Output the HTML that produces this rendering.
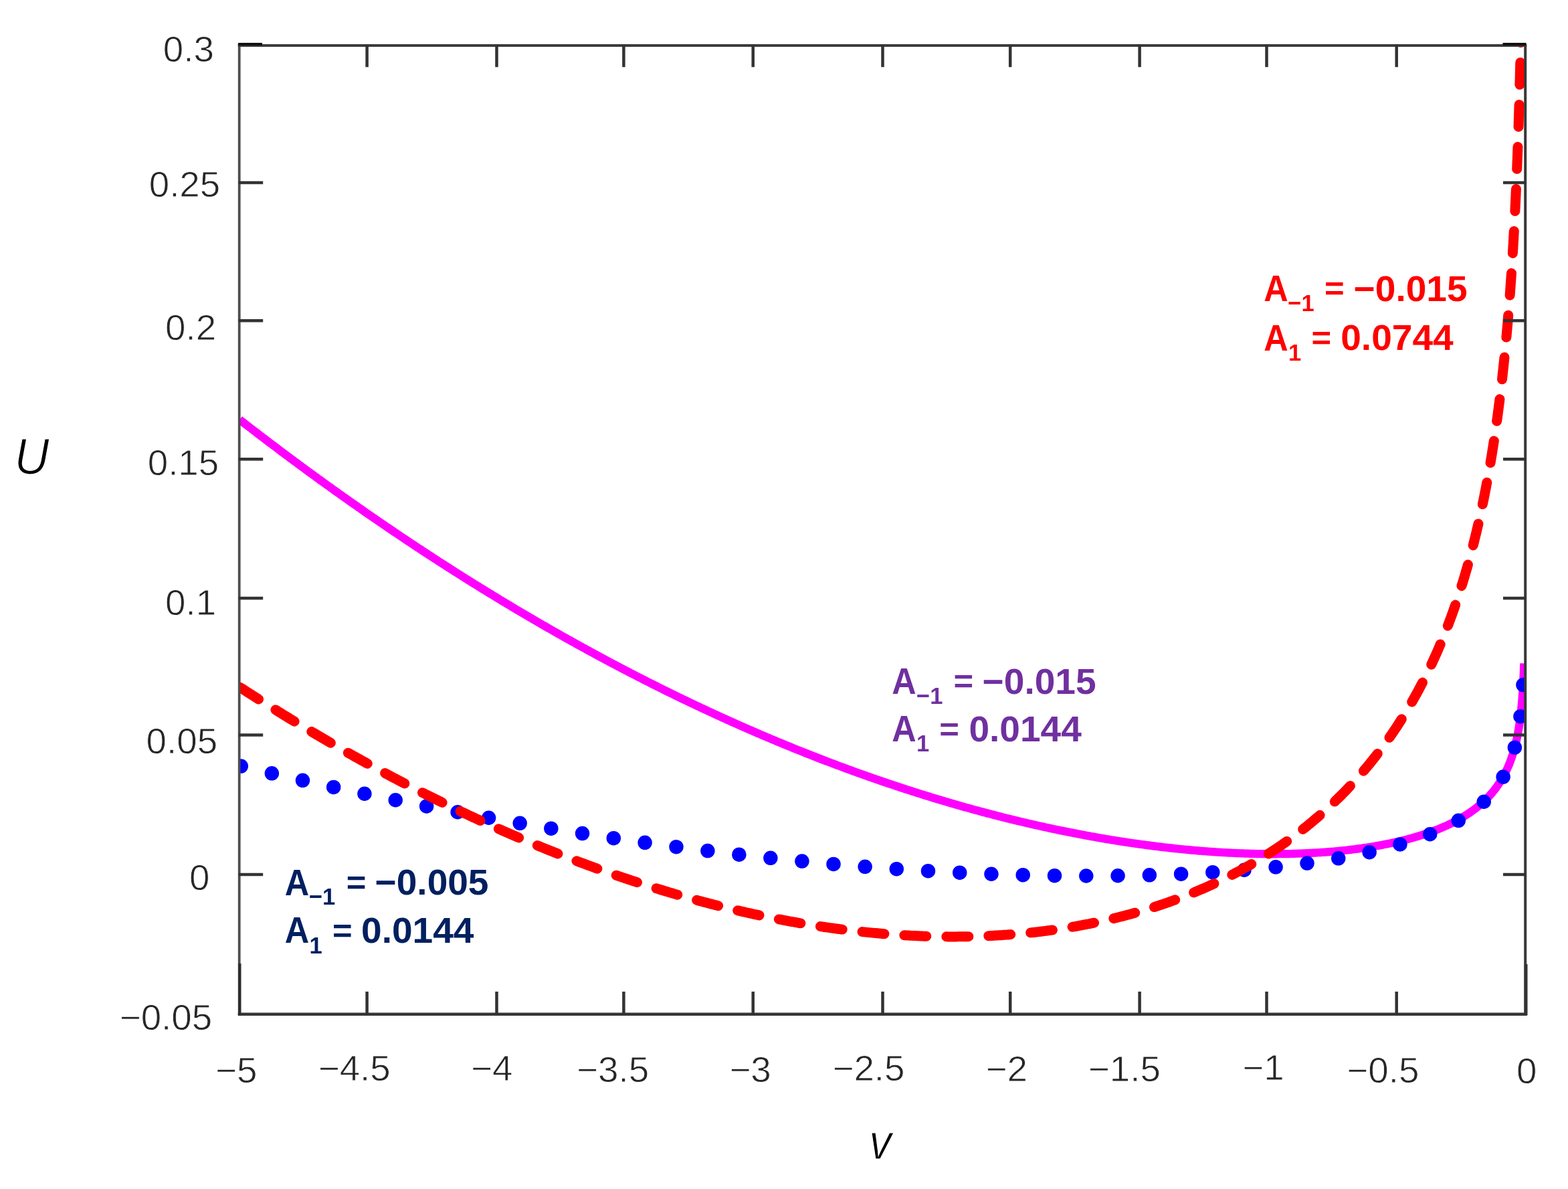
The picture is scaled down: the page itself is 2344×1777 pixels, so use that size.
<!DOCTYPE html><html><head><meta charset="utf-8"><title>U(v)</title><style>html,body{margin:0;padding:0;background:#fff;}body{width:2344px;height:1777px;overflow:hidden;}svg{display:block;}</style></head><body><svg width="2344" height="1777" viewBox="0 0 2344 1777" font-family="Liberation Sans, Arial, sans-serif"><defs><clipPath id="pc"><rect x="358.0" y="67.8" width="1922.20" height="1447.90"/></clipPath></defs><rect width="2344" height="1777" fill="#fff"/><g clip-path="url(#pc)"><path d="M358.20,627.16 L360.76,629.15 L363.32,631.13 L365.88,633.11 L368.44,635.09 L371.00,637.07 L373.56,639.04 L375.82,640.78 L378.68,642.98 L381.24,644.94 L383.80,646.90 L386.36,648.86 L388.92,650.81 L391.48,652.77 L393.28,654.14 L395.32,655.69 L397.88,657.63 L400.44,659.58 L403.00,661.52 L405.56,663.45 L408.12,665.39 L410.58,667.24 L413.24,669.24 L415.80,671.17 L418.36,673.09 L420.92,675.01 L423.48,676.93 L426.04,678.84 L427.72,680.09 L429.88,681.71 L432.44,683.61 L435.00,685.52 L437.56,687.42 L440.12,689.31 L442.68,691.21 L444.70,692.70 L446.52,694.05 L449.08,695.93 L451.64,697.82 L454.20,699.70 L456.76,701.58 L459.32,703.46 L461.53,705.07 L463.16,706.27 L465.72,708.13 L468.28,710.00 L470.84,711.86 L473.40,713.72 L475.96,715.58 L478.21,717.21 L481.08,719.29 L483.65,721.14 L486.21,722.98 L488.77,724.83 L491.33,726.67 L493.89,728.51 L496.45,730.34 L499.01,732.17 L501.57,734.00 L504.13,735.83 L506.69,737.65 L509.25,739.47 L511.10,740.78 L513.09,742.19 L515.65,744.01 L518.21,745.82 L520.77,747.63 L523.33,749.43 L525.89,751.23 L528.45,753.03 L531.01,754.83 L533.57,756.62 L535.37,757.88 L537.41,759.30 L539.97,761.09 L542.53,762.87 L545.09,764.65 L547.65,766.43 L550.21,768.20 L552.77,769.97 L555.33,771.74 L557.89,773.51 L560.45,775.27 L563.01,777.03 L565.57,778.79 L568.13,780.54 L570.69,782.29 L573.25,784.04 L575.09,785.29 L577.09,786.66 L579.65,788.40 L582.21,790.13 L584.77,791.87 L587.33,793.60 L589.89,795.33 L592.45,797.06 L595.01,798.78 L597.57,800.50 L600.13,802.22 L602.69,803.94 L605.25,805.65 L607.81,807.36 L610.37,809.06 L612.93,810.77 L615.49,812.47 L618.05,814.16 L620.61,815.86 L623.17,817.55 L625.73,819.24 L628.29,820.93 L630.85,822.61 L633.41,824.29 L635.97,825.97 L638.53,827.64 L641.09,829.31 L643.65,830.98 L646.21,832.65 L648.77,834.31 L651.33,835.97 L653.89,837.63 L656.45,839.28 L659.01,840.93 L661.57,842.58 L664.13,844.22 L666.69,845.87 L669.25,847.51 L671.81,849.14 L674.17,850.65 L676.93,852.41 L679.49,854.04 L681.55,855.34 L683.33,856.47 L685.89,858.09 L688.45,859.71 L691.01,861.33 L693.57,862.94 L696.13,864.55 L698.69,866.15 L701.25,867.76 L703.48,869.15 L706.37,870.95 L708.93,872.55 L710.73,873.66 L712.77,874.93 L715.33,876.52 L717.89,878.11 L720.45,879.69 L723.01,881.27 L725.12,882.56 L726.85,883.63 L729.42,885.20 L731.98,886.77 L734.54,888.33 L737.10,889.90 L739.37,891.28 L742.22,893.01 L744.78,894.57 L747.34,896.12 L749.90,897.66 L752.46,899.21 L755.02,900.75 L757.58,902.29 L760.14,903.83 L762.70,905.36 L765.26,906.89 L767.50,908.23 L770.38,909.94 L772.94,911.46 L775.50,912.98 L778.06,914.50 L780.62,916.01 L783.18,917.52 L785.74,919.03 L788.25,920.51 L790.86,922.03 L793.42,923.53 L795.98,925.03 L798.54,926.52 L801.10,928.01 L803.66,929.49 L806.22,930.98 L808.72,932.43 L811.34,933.94 L813.90,935.41 L816.46,936.88 L819.02,938.35 L821.58,939.82 L824.14,941.28 L826.70,942.74 L828.91,944.00 L831.82,945.65 L834.38,947.10 L836.94,948.55 L839.50,949.99 L842.06,951.44 L844.62,952.88 L847.18,954.31 L849.74,955.75 L852.30,957.18 L854.86,958.60 L857.42,960.03 L859.98,961.45 L861.95,962.54 L863.82,963.58 L866.38,964.99 L868.46,966.14 L870.22,967.11 L872.78,968.52 L874.95,969.71 L877.90,971.32 L880.46,972.72 L883.02,974.11 L885.58,975.51 L887.83,976.73 L890.70,978.28 L893.26,979.66 L895.82,981.05 L898.38,982.42 L900.60,983.61 L903.50,985.17 L906.06,986.54 L908.62,987.90 L911.18,989.27 L913.25,990.36 L915.02,991.30 L917.58,992.66 L919.53,993.69 L921.42,994.69 L923.98,996.03 L925.78,996.98 L927.82,998.05 L930.38,999.39 L932.94,1000.73 L935.50,1002.06 L938.06,1003.39 L940.62,1004.72 L943.18,1006.05 L945.74,1007.37 L948.30,1008.69 L950.50,1009.82 L953.42,1011.32 L955.98,1012.63 L958.54,1013.94 L961.10,1015.24 L963.66,1016.55 L966.22,1017.84 L968.75,1019.12 L971.34,1020.43 L973.91,1021.72 L976.47,1023.01 L979.03,1024.29 L981.59,1025.57 L984.15,1026.85 L986.71,1028.13 L989.27,1029.40 L991.83,1030.67 L994.39,1031.93 L996.95,1033.20 L999.51,1034.46 L1002.07,1035.71 L1004.49,1036.90 L1007.19,1038.22 L1009.75,1039.47 L1012.31,1040.71 L1014.87,1041.95 L1017.43,1043.19 L1019.99,1044.43 L1021.99,1045.39 L1023.83,1046.28 L1026.39,1047.51 L1028.95,1048.73 L1031.51,1049.95 L1033.52,1050.91 L1035.35,1051.78 L1037.91,1053.00 L1040.47,1054.21 L1043.03,1055.42 L1044.95,1056.32 L1046.87,1057.22 L1049.43,1058.43 L1051.99,1059.62 L1054.55,1060.82 L1057.11,1062.01 L1059.67,1063.20 L1061.90,1064.24 L1064.79,1065.57 L1067.35,1066.75 L1069.91,1067.93 L1072.47,1069.10 L1075.03,1070.27 L1077.59,1071.44 L1080.15,1072.61 L1082.71,1073.77 L1085.27,1074.93 L1087.83,1076.09 L1090.39,1077.24 L1092.95,1078.39 L1095.10,1079.35 L1098.07,1080.68 L1100.55,1081.78 L1103.19,1082.96 L1105.75,1084.09 L1108.31,1085.23 L1110.87,1086.35 L1113.43,1087.48 L1115.99,1088.60 L1118.55,1089.72 L1121.11,1090.84 L1123.67,1091.95 L1126.23,1093.06 L1128.79,1094.17 L1131.35,1095.28 L1133.91,1096.38 L1136.47,1097.48 L1139.03,1098.57 L1141.59,1099.66 L1144.15,1100.75 L1146.71,1101.84 L1149.27,1102.92 L1151.83,1104.00 L1154.39,1105.08 L1156.95,1106.15 L1158.82,1106.93 L1160.79,1107.76 L1163.35,1108.82 L1165.91,1109.89 L1168.47,1110.95 L1171.03,1112.00 L1173.59,1113.06 L1176.15,1114.11 L1178.71,1115.16 L1181.27,1116.20 L1183.83,1117.24 L1186.39,1118.28 L1188.95,1119.32 L1191.51,1120.35 L1194.07,1121.38 L1196.63,1122.41 L1199.19,1123.43 L1201.75,1124.45 L1204.31,1125.47 L1206.87,1126.48 L1209.29,1127.43 L1211.99,1128.50 L1214.21,1129.37 L1217.11,1130.50 L1219.11,1131.28 L1222.24,1132.50 L1224.80,1133.49 L1227.36,1134.48 L1229.92,1135.47 L1232.48,1136.45 L1235.04,1137.43 L1237.60,1138.41 L1240.16,1139.38 L1242.72,1140.35 L1245.28,1141.32 L1247.84,1142.28 L1250.40,1143.24 L1252.77,1144.13 L1255.52,1145.16 L1257.49,1145.89 L1260.64,1147.06 L1263.20,1148.00 L1265.76,1148.94 L1268.32,1149.88 L1270.88,1150.82 L1273.44,1151.75 L1276.00,1152.68 L1278.56,1153.61 L1280.77,1154.41 L1283.68,1155.45 L1286.24,1156.37 L1288.80,1157.28 L1291.36,1158.19 L1293.92,1159.10 L1296.48,1160.01 L1299.01,1160.90 L1301.60,1161.81 L1303.52,1162.48 L1305.44,1163.15 L1308.00,1164.04 L1310.56,1164.93 L1312.47,1165.59 L1314.40,1166.25 L1316.92,1167.12 L1319.52,1168.01 L1322.08,1168.88 L1324.64,1169.75 L1327.20,1170.62 L1329.76,1171.48 L1332.32,1172.34 L1334.50,1173.07 L1337.44,1174.05 L1340.00,1174.90 L1342.56,1175.75 L1345.12,1176.59 L1347.48,1177.37 L1350.24,1178.27 L1352.80,1179.11 L1355.36,1179.94 L1357.92,1180.77 L1360.27,1181.52 L1363.04,1182.41 L1365.60,1183.23 L1368.16,1184.05 L1370.72,1184.86 L1372.89,1185.55 L1375.84,1186.47 L1378.40,1187.28 L1380.96,1188.07 L1383.52,1188.87 L1386.08,1189.66 L1388.64,1190.45 L1391.20,1191.24 L1393.55,1191.96 L1396.32,1192.80 L1398.88,1193.58 L1401.44,1194.35 L1404.00,1195.12 L1406.56,1195.89 L1409.12,1196.65 L1411.68,1197.41 L1413.73,1198.02 L1416.80,1198.92 L1419.36,1199.67 L1421.67,1200.35 L1424.48,1201.16 L1427.04,1201.90 L1429.55,1202.62 L1432.16,1203.38 L1434.72,1204.11 L1437.28,1204.83 L1439.84,1205.56 L1442.40,1206.28 L1444.96,1207.00 L1447.52,1207.71 L1450.08,1208.42 L1452.64,1209.13 L1455.20,1209.83 L1457.76,1210.53 L1460.31,1211.23 L1462.88,1211.92 L1465.44,1212.61 L1467.83,1213.26 L1470.57,1213.99 L1473.13,1214.67 L1475.28,1215.24 L1478.25,1216.02 L1480.81,1216.69 L1483.37,1217.36 L1485.93,1218.02 L1488.49,1218.68 L1491.05,1219.34 L1493.60,1219.99 L1496.17,1220.64 L1498.73,1221.29 L1500.81,1221.81 L1503.85,1222.57 L1506.41,1223.21 L1508.97,1223.84 L1511.51,1224.47 L1514.09,1225.10 L1516.65,1225.72 L1519.21,1226.34 L1521.77,1226.96 L1524.33,1227.57 L1526.89,1228.18 L1529.00,1228.68 L1532.01,1229.39 L1534.57,1229.99 L1537.13,1230.59 L1539.31,1231.09 L1542.25,1231.77 L1544.81,1232.35 L1547.37,1232.93 L1549.48,1233.41 L1552.49,1234.09 L1555.05,1234.66 L1557.61,1235.23 L1560.17,1235.79 L1562.73,1236.35 L1565.29,1236.91 L1567.85,1237.46 L1570.41,1238.01 L1572.66,1238.49 L1575.53,1239.10 L1578.09,1239.64 L1580.65,1240.18 L1583.21,1240.71 L1585.57,1241.20 L1588.33,1241.77 L1590.89,1242.29 L1593.45,1242.81 L1596.01,1243.32 L1598.25,1243.77 L1601.13,1244.34 L1603.69,1244.84 L1606.25,1245.34 L1608.81,1245.84 L1611.37,1246.33 L1613.77,1246.79 L1616.49,1247.31 L1619.05,1247.79 L1621.61,1248.27 L1624.17,1248.74 L1626.73,1249.22 L1628.94,1249.62 L1631.85,1250.15 L1634.41,1250.61 L1636.97,1251.06 L1639.53,1251.52 L1642.09,1251.97 L1644.65,1252.41 L1646.69,1252.76 L1649.60,1253.26 L1652.33,1253.73 L1654.89,1254.16 L1657.45,1254.58 L1660.01,1255.01 L1662.57,1255.42 L1665.13,1255.84 L1667.69,1256.25 L1670.25,1256.66 L1672.41,1257.00 L1675.20,1257.44 L1677.93,1257.86 L1680.49,1258.25 L1683.05,1258.64 L1685.61,1259.03 L1688.17,1259.41 L1690.73,1259.78 L1693.29,1260.16 L1695.85,1260.53 L1698.41,1260.89 L1700.97,1261.25 L1703.53,1261.61 L1706.09,1261.97 L1708.65,1262.32 L1711.21,1262.66 L1713.78,1263.00 L1716.34,1263.34 L1718.90,1263.67 L1721.46,1264.00 L1724.02,1264.33 L1726.58,1264.65 L1729.14,1264.97 L1731.70,1265.28 L1734.26,1265.59 L1736.82,1265.90 L1739.38,1266.20 L1741.94,1266.50 L1744.50,1266.79 L1747.06,1267.08 L1749.62,1267.37 L1752.18,1267.65 L1754.74,1267.93 L1757.30,1268.20 L1759.86,1268.47 L1762.42,1268.73 L1764.98,1268.99 L1767.54,1269.25 L1769.98,1269.49 L1772.33,1269.71 L1774.66,1269.94 L1776.99,1270.15 L1779.06,1270.35 L1781.60,1270.58 L1783.89,1270.78 L1786.17,1270.98 L1788.44,1271.18 L1790.58,1271.36 L1792.95,1271.55 L1795.19,1271.74 L1797.42,1271.92 L1799.54,1272.08 L1801.84,1272.26 L1804.04,1272.43 L1806.23,1272.59 L1808.40,1272.75 L1810.57,1272.90 L1812.73,1273.05 L1814.88,1273.20 L1817.02,1273.34 L1819.14,1273.48 L1821.26,1273.61 L1823.37,1273.75 L1825.47,1273.87 L1827.56,1274.00 L1829.64,1274.12 L1831.71,1274.23 L1833.77,1274.35 L1835.82,1274.46 L1837.86,1274.56 L1839.90,1274.66 L1841.92,1274.76 L1843.93,1274.86 L1845.94,1274.95 L1848.18,1275.05 L1850.74,1275.16 L1853.30,1275.26 L1855.82,1275.36 L1858.42,1275.46 L1860.98,1275.55 L1863.54,1275.63 L1866.10,1275.71 L1868.66,1275.79 L1871.17,1275.85 L1873.78,1275.92 L1876.34,1275.98 L1878.64,1276.03 L1881.46,1276.08 L1884.02,1276.12 L1886.58,1276.16 L1889.14,1276.20 L1891.38,1276.22 L1894.26,1276.25 L1896.71,1276.26 L1899.38,1276.28 L1901.94,1276.28 L1904.50,1276.28 L1907.06,1276.28 L1909.62,1276.27 L1912.18,1276.25 L1914.74,1276.23 L1917.30,1276.20 L1919.86,1276.17 L1922.31,1276.13 L1924.98,1276.09 L1927.22,1276.04 L1930.10,1275.98 L1932.66,1275.92 L1935.22,1275.85 L1937.78,1275.77 L1939.99,1275.71 L1942.90,1275.61 L1945.46,1275.52 L1947.73,1275.43 L1950.58,1275.31 L1953.14,1275.20 L1955.30,1275.10 L1958.26,1274.96 L1960.83,1274.83 L1963.39,1274.69 L1965.60,1274.56 L1968.49,1274.39 L1971.07,1274.24 L1973.63,1274.07 L1976.19,1273.90 L1978.38,1273.75 L1981.14,1273.55 L1983.87,1273.34 L1986.43,1273.14 L1988.99,1272.94 L1991.55,1272.72 L1994.11,1272.50 L1996.67,1272.27 L1999.23,1272.03 L2001.79,1271.79 L2004.35,1271.54 L2006.91,1271.28 L2009.47,1271.01 L2012.03,1270.73 L2014.59,1270.45 L2017.15,1270.15 L2019.71,1269.85 L2022.12,1269.56 L2024.49,1269.27 L2026.83,1268.97 L2029.15,1268.67 L2031.23,1268.39 L2033.74,1268.05 L2036.00,1267.73 L2038.23,1267.41 L2040.45,1267.09 L2042.65,1266.76 L2044.83,1266.43 L2046.99,1266.09 L2049.12,1265.75 L2051.24,1265.40 L2053.34,1265.06 L2055.42,1264.71 L2057.48,1264.35 L2059.52,1263.99 L2061.55,1263.63 L2063.55,1263.26 L2065.54,1262.89 L2067.51,1262.52 L2069.63,1262.11 L2072.19,1261.61 L2074.25,1261.19 L2077.08,1260.61 L2079.87,1260.03 L2082.43,1259.47 L2084.43,1259.03 L2087.11,1258.43 L2089.76,1257.82 L2092.38,1257.20 L2094.95,1256.58 L2097.49,1255.96 L2100.00,1255.32 L2102.47,1254.69 L2104.91,1254.04 L2107.32,1253.40 L2109.31,1252.85 L2111.25,1252.31 L2113.57,1251.65 L2115.71,1251.02 L2118.11,1250.31 L2120.34,1249.64 L2122.53,1248.96 L2124.67,1248.29 L2126.83,1247.60 L2128.93,1246.91 L2131.01,1246.21 L2133.05,1245.52 L2135.07,1244.82 L2137.06,1244.12 L2139.03,1243.41 L2140.96,1242.70 L2142.87,1241.99 L2144.76,1241.27 L2147.23,1240.31 L2149.66,1239.35 L2151.55,1238.58 L2153.80,1237.65 L2156.11,1236.68 L2157.95,1235.88 L2160.04,1234.96 L2162.23,1233.97 L2164.35,1232.99 L2166.50,1231.98 L2168.58,1230.98 L2170.61,1229.98 L2172.61,1228.97 L2174.58,1227.96 L2176.51,1226.95 L2178.40,1225.93 L2180.26,1224.91 L2182.08,1223.89 L2183.87,1222.87 L2185.63,1221.84 L2187.36,1220.81 L2189.47,1219.52 L2191.23,1218.41 L2193.15,1217.19 L2195.07,1215.92 L2197.07,1214.58 L2198.91,1213.31 L2200.81,1211.96 L2202.62,1210.65 L2204.39,1209.34 L2206.11,1208.02 L2207.80,1206.70 L2209.45,1205.37 L2211.06,1204.05 L2212.63,1202.72 L2214.17,1201.39 L2215.67,1200.06 L2217.43,1198.46 L2219.14,1196.86 L2220.68,1195.38 L2222.16,1193.92 L2223.74,1192.31 L2225.28,1190.70 L2226.77,1189.08 L2228.23,1187.47 L2229.64,1185.86 L2231.02,1184.23 L2232.36,1182.61 L2233.67,1180.99 L2234.94,1179.37 L2236.17,1177.75 L2237.37,1176.12 L2238.54,1174.50 L2239.86,1172.60 L2241.14,1170.70 L2242.38,1168.80 L2243.58,1166.89 L2244.74,1164.99 L2245.86,1163.09 L2246.95,1161.18 L2248.01,1159.27 L2249.03,1157.37 L2250.02,1155.46 L2250.98,1153.55 L2251.90,1151.64 L2252.80,1149.73 L2253.67,1147.81 L2254.51,1145.90 L2255.33,1143.99 L2256.11,1142.08 L2256.88,1140.16 L2257.62,1138.25 L2258.33,1136.33 L2259.03,1134.42 L2259.70,1132.50 L2260.35,1130.59 L2260.98,1128.67 L2261.59,1126.76 L2262.18,1124.84 L2262.75,1122.92 L2263.38,1120.73 L2263.99,1118.54 L2264.58,1116.35 L2265.14,1114.15 L2265.69,1111.96 L2266.21,1109.77 L2266.72,1107.58 L2267.21,1105.38 L2267.68,1103.19 L2268.13,1101.00 L2268.57,1098.80 L2268.99,1096.61 L2269.39,1094.42 L2269.78,1092.22 L2270.16,1090.03 L2270.52,1087.83 L2270.87,1085.64 L2271.21,1083.44 L2271.54,1081.25 L2271.85,1079.05 L2272.15,1076.86 L2272.44,1074.67 L2272.72,1072.47 L2272.99,1070.28 L2273.25,1068.08 L2273.50,1065.89 L2273.75,1063.69 L2273.98,1061.49 L2274.21,1059.30 L2274.42,1057.10 L2274.63,1054.91 L2274.83,1052.71 L2275.03,1050.52 L2275.21,1048.32 L2275.39,1046.13 L2275.57,1043.93 L2275.74,1041.74 L2275.90,1039.54 L2276.05,1037.35 L2276.20,1035.15 L2276.35,1032.95 L2276.49,1030.76 L2276.62,1028.56 L2276.75,1026.37 L2276.88,1024.17 L2277.00,1021.98 L2277.11,1019.78 L2277.22,1017.59 L2277.33,1015.39 L2277.43,1013.19 L2277.53,1011.00 L2277.63,1008.80 L2277.72,1006.61 L2277.81,1004.41 L2277.90,1002.22 L2277.98,1000.02 L2278.06,997.82 L2278.14,995.63 L2278.22,993.43 L2278.28,991.51" fill="none" stroke="#ff00ff" stroke-width="12.2" stroke-linejoin="round"/><path d="M358.20,1144.54 L360.76,1145.15 L363.32,1145.76 L365.88,1146.36 L368.44,1146.97 L371.00,1147.57 L373.56,1148.18 L375.82,1148.71 L378.68,1149.38 L381.24,1149.98 L383.80,1150.58 L386.36,1151.18 L388.92,1151.78 L391.48,1152.38 L394.04,1152.97 L396.60,1153.57 L399.16,1154.16 L401.72,1154.76 L404.28,1155.35 L406.84,1155.94 L409.40,1156.53 L411.96,1157.12 L414.52,1157.70 L417.08,1158.29 L419.17,1158.77 L422.20,1159.46 L424.76,1160.04 L427.32,1160.63 L429.88,1161.21 L432.44,1161.79 L435.00,1162.37 L437.56,1162.95 L440.12,1163.52 L442.68,1164.10 L444.70,1164.55 L447.80,1165.25 L450.36,1165.82 L452.92,1166.40 L455.48,1166.97 L458.04,1167.54 L460.60,1168.11 L463.16,1168.67 L465.72,1169.24 L468.28,1169.81 L470.84,1170.37 L473.40,1170.94 L475.96,1171.50 L478.21,1171.99 L481.08,1172.62 L483.65,1173.18 L486.21,1173.74 L488.77,1174.30 L491.33,1174.85 L493.89,1175.41 L496.45,1175.96 L499.01,1176.52 L501.57,1177.07 L504.13,1177.62 L506.69,1178.17 L509.25,1178.72 L511.81,1179.27 L514.37,1179.82 L516.93,1180.36 L519.22,1180.85 L522.05,1181.45 L524.61,1182.00 L527.17,1182.54 L529.73,1183.08 L532.29,1183.62 L534.85,1184.16 L537.41,1184.70 L539.97,1185.23 L542.53,1185.77 L545.09,1186.30 L547.65,1186.84 L550.21,1187.37 L552.77,1187.90 L555.33,1188.43 L557.89,1188.96 L560.45,1189.49 L563.01,1190.02 L565.57,1190.54 L568.13,1191.07 L570.69,1191.59 L573.25,1192.11 L575.81,1192.64 L578.37,1193.16 L580.93,1193.68 L582.92,1194.08 L586.05,1194.72 L588.61,1195.23 L590.72,1195.66 L593.73,1196.26 L596.29,1196.78 L598.48,1197.22 L601.41,1197.80 L603.97,1198.31 L606.21,1198.76 L609.09,1199.33 L611.65,1199.84 L613.90,1200.28 L616.77,1200.85 L619.33,1201.35 L621.56,1201.79 L624.45,1202.36 L627.01,1202.86 L629.18,1203.28 L632.13,1203.86 L634.69,1204.35 L636.76,1204.76 L639.81,1205.35 L642.37,1205.84 L644.93,1206.34 L647.49,1206.83 L650.05,1207.32 L652.61,1207.81 L655.17,1208.30 L657.73,1208.79 L660.29,1209.27 L662.85,1209.76 L665.41,1210.25 L667.97,1210.73 L670.53,1211.21 L673.09,1211.69 L675.65,1212.17 L678.21,1212.65 L680.77,1213.13 L683.33,1213.61 L685.89,1214.09 L688.45,1214.56 L691.01,1215.04 L693.57,1215.51 L696.13,1215.98 L698.69,1216.45 L701.25,1216.92 L703.48,1217.33 L706.37,1217.86 L708.93,1218.33 L711.49,1218.79 L714.05,1219.26 L716.61,1219.72 L719.17,1220.18 L721.73,1220.64 L724.29,1221.11 L726.85,1221.56 L729.42,1222.02 L731.98,1222.48 L734.54,1222.94 L737.10,1223.39 L739.37,1223.79 L742.22,1224.30 L744.78,1224.75 L747.34,1225.20 L749.90,1225.65 L752.46,1226.10 L755.02,1226.55 L757.58,1226.99 L760.14,1227.44 L762.70,1227.88 L765.26,1228.32 L767.50,1228.71 L770.38,1229.21 L772.94,1229.65 L775.50,1230.08 L778.06,1230.52 L780.62,1230.96 L783.18,1231.39 L785.74,1231.83 L788.25,1232.25 L790.86,1232.69 L793.42,1233.12 L795.98,1233.55 L798.54,1233.98 L801.10,1234.41 L803.66,1234.84 L806.22,1235.26 L808.72,1235.68 L811.34,1236.11 L813.90,1236.53 L816.46,1236.95 L819.02,1237.37 L821.58,1237.79 L824.14,1238.21 L826.70,1238.63 L828.91,1238.99 L831.82,1239.46 L834.38,1239.87 L836.94,1240.28 L839.50,1240.70 L842.06,1241.11 L844.62,1241.51 L847.18,1241.92 L849.74,1242.33 L852.30,1242.73 L854.86,1243.14 L857.42,1243.54 L859.98,1243.95 L862.54,1244.35 L865.10,1244.75 L867.66,1245.15 L870.22,1245.54 L872.78,1245.94 L874.95,1246.28 L877.90,1246.73 L880.46,1247.12 L883.02,1247.52 L885.58,1247.91 L887.83,1248.25 L890.70,1248.69 L893.26,1249.07 L895.82,1249.46 L898.38,1249.85 L900.60,1250.18 L903.50,1250.61 L906.06,1251.00 L908.62,1251.38 L911.18,1251.76 L913.25,1252.06 L916.30,1252.51 L918.86,1252.89 L921.42,1253.27 L923.98,1253.64 L926.54,1254.01 L929.10,1254.39 L931.66,1254.76 L934.22,1255.13 L936.78,1255.50 L939.34,1255.86 L941.90,1256.23 L944.36,1256.58 L947.02,1256.96 L949.58,1257.32 L952.14,1257.68 L954.70,1258.04 L957.26,1258.40 L959.82,1258.76 L962.38,1259.12 L964.94,1259.48 L967.50,1259.83 L970.06,1260.18 L972.62,1260.54 L974.77,1260.83 L977.75,1261.24 L980.31,1261.59 L982.87,1261.94 L985.43,1262.28 L987.99,1262.63 L990.55,1262.97 L992.68,1263.26 L995.67,1263.66 L998.23,1264.00 L1000.79,1264.34 L1003.35,1264.68 L1005.91,1265.02 L1008.47,1265.35 L1011.03,1265.69 L1013.59,1266.02 L1016.15,1266.36 L1018.71,1266.69 L1021.27,1267.02 L1023.83,1267.35 L1026.39,1267.68 L1028.95,1268.01 L1031.51,1268.33 L1033.52,1268.59 L1036.63,1268.98 L1039.19,1269.30 L1041.75,1269.62 L1044.31,1269.94 L1046.87,1270.26 L1049.43,1270.58 L1051.99,1270.90 L1054.55,1271.21 L1057.11,1271.53 L1059.67,1271.84 L1061.90,1272.11 L1064.79,1272.46 L1067.35,1272.77 L1069.91,1273.08 L1072.47,1273.39 L1075.03,1273.70 L1077.59,1274.00 L1080.15,1274.30 L1082.71,1274.61 L1085.27,1274.91 L1087.83,1275.21 L1090.39,1275.51 L1092.95,1275.81 L1095.10,1276.05 L1098.07,1276.40 L1100.55,1276.68 L1103.19,1276.98 L1105.75,1277.28 L1108.31,1277.57 L1110.87,1277.86 L1113.43,1278.14 L1115.99,1278.43 L1118.55,1278.72 L1121.11,1279.00 L1123.67,1279.28 L1126.23,1279.57 L1128.79,1279.85 L1131.35,1280.13 L1133.91,1280.41 L1136.47,1280.68 L1139.03,1280.96 L1141.59,1281.23 L1144.15,1281.51 L1146.71,1281.78 L1149.27,1282.05 L1151.83,1282.32 L1154.39,1282.59 L1156.95,1282.86 L1159.51,1283.12 L1162.07,1283.39 L1164.63,1283.65 L1167.19,1283.92 L1169.75,1284.18 L1172.31,1284.44 L1174.87,1284.70 L1177.43,1284.95 L1179.99,1285.21 L1182.55,1285.47 L1185.11,1285.72 L1187.67,1285.97 L1190.23,1286.22 L1192.79,1286.47 L1195.35,1286.72 L1197.91,1286.97 L1200.47,1287.22 L1203.03,1287.46 L1205.59,1287.71 L1208.15,1287.95 L1210.71,1288.19 L1213.27,1288.43 L1215.83,1288.67 L1218.39,1288.91 L1220.96,1289.14 L1223.52,1289.38 L1226.08,1289.61 L1228.64,1289.84 L1231.20,1290.08 L1233.67,1290.30 L1236.32,1290.53 L1238.47,1290.73 L1241.44,1290.99 L1244.00,1291.21 L1246.56,1291.44 L1249.12,1291.66 L1251.68,1291.88 L1254.24,1292.10 L1256.80,1292.32 L1259.36,1292.54 L1261.92,1292.75 L1264.48,1292.97 L1266.86,1293.17 L1269.60,1293.39 L1272.16,1293.60 L1274.72,1293.81 L1277.28,1294.02 L1279.84,1294.23 L1282.40,1294.43 L1284.96,1294.64 L1287.52,1294.84 L1289.93,1295.03 L1292.64,1295.24 L1295.20,1295.44 L1297.76,1295.64 L1300.32,1295.83 L1302.88,1296.03 L1305.44,1296.22 L1308.00,1296.41 L1310.56,1296.61 L1313.12,1296.80 L1315.68,1296.98 L1318.24,1297.17 L1320.80,1297.36 L1323.36,1297.54 L1325.75,1297.71 L1328.48,1297.91 L1331.04,1298.09 L1333.60,1298.26 L1336.16,1298.44 L1338.72,1298.62 L1341.28,1298.79 L1343.84,1298.97 L1346.40,1299.14 L1348.96,1299.31 L1351.52,1299.48 L1354.08,1299.65 L1356.64,1299.81 L1359.20,1299.98 L1361.76,1300.14 L1364.32,1300.30 L1366.88,1300.47 L1369.44,1300.63 L1372.00,1300.78 L1374.56,1300.94 L1377.06,1301.09 L1379.68,1301.25 L1382.24,1301.40 L1384.80,1301.55 L1387.36,1301.70 L1389.46,1301.83 L1392.48,1302.00 L1395.04,1302.15 L1397.60,1302.29 L1400.16,1302.43 L1402.72,1302.57 L1405.28,1302.71 L1407.84,1302.85 L1410.40,1302.99 L1412.96,1303.13 L1415.52,1303.26 L1417.71,1303.37 L1420.64,1303.52 L1423.20,1303.65 L1425.62,1303.78 L1428.32,1303.91 L1430.88,1304.04 L1433.44,1304.16 L1436.00,1304.28 L1438.56,1304.40 L1441.12,1304.52 L1443.68,1304.64 L1446.24,1304.76 L1448.80,1304.87 L1451.36,1304.99 L1453.92,1305.10 L1456.48,1305.21 L1459.04,1305.32 L1461.60,1305.43 L1464.08,1305.53 L1466.73,1305.64 L1469.29,1305.74 L1471.56,1305.83 L1474.41,1305.94 L1476.97,1306.04 L1478.98,1306.12 L1482.09,1306.24 L1484.65,1306.33 L1487.21,1306.42 L1489.77,1306.51 L1492.33,1306.60 L1494.89,1306.69 L1497.22,1306.77 L1500.01,1306.86 L1502.57,1306.95 L1505.13,1307.03 L1507.69,1307.11 L1510.25,1307.19 L1512.81,1307.26 L1515.04,1307.33 L1517.93,1307.41 L1520.49,1307.49 L1523.05,1307.56 L1525.54,1307.62 L1528.17,1307.69 L1530.73,1307.76 L1533.29,1307.82 L1535.85,1307.89 L1538.41,1307.95 L1540.97,1308.01 L1543.53,1308.07 L1546.09,1308.12 L1548.65,1308.18 L1551.21,1308.23 L1553.77,1308.28 L1556.18,1308.33 L1558.89,1308.38 L1561.45,1308.42 L1564.01,1308.47 L1566.11,1308.50 L1569.13,1308.55 L1571.69,1308.59 L1574.25,1308.63 L1576.81,1308.67 L1579.14,1308.70 L1581.93,1308.73 L1584.49,1308.76 L1587.05,1308.79 L1589.61,1308.82 L1591.94,1308.84 L1594.73,1308.87 L1597.29,1308.89 L1599.85,1308.91 L1602.41,1308.93 L1604.50,1308.95 L1607.53,1308.96 L1610.09,1308.98 L1612.65,1308.99 L1615.21,1309.00 L1617.77,1309.01 L1619.88,1309.01 L1622.89,1309.02 L1625.45,1309.02 L1628.01,1309.02 L1630.57,1309.02 L1633.13,1309.02 L1635.69,1309.01 L1637.88,1309.01 L1640.81,1309.00 L1643.37,1308.99 L1645.93,1308.98 L1648.49,1308.96 L1651.05,1308.95 L1653.61,1308.93 L1656.17,1308.91 L1658.25,1308.89 L1661.11,1308.86 L1663.85,1308.84 L1666.41,1308.81 L1668.97,1308.78 L1671.53,1308.75 L1674.09,1308.72 L1676.65,1308.68 L1679.21,1308.64 L1681.77,1308.60 L1684.33,1308.56 L1686.89,1308.52 L1688.97,1308.48 L1691.69,1308.43 L1694.39,1308.38 L1697.09,1308.33 L1699.69,1308.27 L1702.25,1308.21 L1704.81,1308.16 L1707.37,1308.10 L1709.93,1308.03 L1712.50,1307.97 L1715.06,1307.90 L1717.62,1307.84 L1720.18,1307.77 L1722.74,1307.69 L1725.30,1307.62 L1727.86,1307.54 L1730.42,1307.46 L1732.98,1307.38 L1735.54,1307.30 L1738.10,1307.21 L1740.66,1307.12 L1743.22,1307.03 L1745.78,1306.94 L1748.34,1306.84 L1750.84,1306.75 L1753.27,1306.65 L1755.69,1306.56 L1758.10,1306.46 L1760.50,1306.36 L1762.89,1306.26 L1764.98,1306.17 L1767.54,1306.06 L1769.98,1305.95 L1772.33,1305.84 L1774.66,1305.73 L1776.99,1305.62 L1779.06,1305.52 L1781.60,1305.39 L1783.89,1305.28 L1786.17,1305.16 L1788.44,1305.05 L1790.58,1304.93 L1792.95,1304.81 L1795.19,1304.68 L1797.42,1304.56 L1799.54,1304.44 L1801.84,1304.31 L1804.04,1304.18 L1806.23,1304.05 L1808.40,1303.92 L1810.57,1303.79 L1812.73,1303.66 L1814.88,1303.52 L1817.02,1303.39 L1819.14,1303.25 L1821.26,1303.11 L1823.37,1302.97 L1825.47,1302.83 L1827.56,1302.69 L1829.64,1302.55 L1831.71,1302.41 L1833.77,1302.26 L1835.82,1302.11 L1837.86,1301.97 L1839.90,1301.82 L1841.92,1301.67 L1843.93,1301.52 L1845.94,1301.36 L1847.93,1301.21 L1850.74,1300.99 L1853.30,1300.79 L1855.82,1300.59 L1858.42,1300.37 L1860.98,1300.16 L1863.54,1299.95 L1866.10,1299.73 L1868.66,1299.51 L1871.17,1299.29 L1873.78,1299.05 L1876.34,1298.82 L1878.64,1298.61 L1881.46,1298.35 L1884.02,1298.11 L1886.58,1297.86 L1889.14,1297.61 L1891.38,1297.40 L1894.26,1297.11 L1896.71,1296.86 L1899.38,1296.59 L1901.94,1296.32 L1904.50,1296.05 L1907.06,1295.78 L1909.62,1295.50 L1912.18,1295.22 L1914.74,1294.94 L1917.30,1294.65 L1919.86,1294.35 L1922.31,1294.07 L1924.98,1293.76 L1927.22,1293.49 L1930.10,1293.15 L1932.66,1292.83 L1935.22,1292.52 L1937.78,1292.20 L1939.99,1291.92 L1942.90,1291.54 L1945.46,1291.21 L1947.73,1290.91 L1950.58,1290.53 L1953.14,1290.18 L1955.30,1289.89 L1958.26,1289.47 L1960.83,1289.11 L1963.39,1288.75 L1965.60,1288.43 L1968.49,1288.00 L1971.07,1287.62 L1973.63,1287.23 L1976.19,1286.84 L1978.38,1286.51 L1981.14,1286.07 L1983.87,1285.64 L1986.43,1285.23 L1988.99,1284.81 L1991.55,1284.39 L1994.11,1283.96 L1996.67,1283.53 L1999.23,1283.09 L2001.79,1282.65 L2004.35,1282.19 L2006.91,1281.74 L2009.47,1281.27 L2012.03,1280.80 L2014.59,1280.33 L2017.15,1279.85 L2019.71,1279.36 L2022.12,1278.89 L2024.49,1278.43 L2026.83,1277.96 L2029.15,1277.49 L2031.23,1277.07 L2033.74,1276.56 L2036.00,1276.08 L2038.23,1275.61 L2040.45,1275.14 L2042.65,1274.66 L2044.83,1274.18 L2046.99,1273.71 L2049.12,1273.23 L2051.24,1272.75 L2053.34,1272.26 L2055.42,1271.78 L2057.48,1271.30 L2059.52,1270.81 L2061.55,1270.32 L2063.55,1269.84 L2065.54,1269.35 L2067.51,1268.86 L2069.46,1268.37 L2072.19,1267.67 L2074.25,1267.13 L2077.08,1266.39 L2079.87,1265.65 L2082.43,1264.95 L2084.43,1264.40 L2087.11,1263.65 L2089.76,1262.90 L2092.38,1262.14 L2094.95,1261.39 L2097.49,1260.63 L2100.00,1259.87 L2102.47,1259.11 L2104.91,1258.35 L2107.32,1257.58 L2109.31,1256.94 L2111.25,1256.30 L2113.15,1255.67 L2115.10,1255.02 L2116.99,1254.38 L2119.55,1253.49 L2121.80,1252.70 L2123.97,1251.93 L2125.95,1251.21 L2128.23,1250.37 L2130.32,1249.59 L2132.35,1248.82 L2134.40,1248.03 L2136.40,1247.25 L2138.37,1246.46 L2140.32,1245.68 L2142.24,1244.89 L2144.13,1244.11 L2146.00,1243.32 L2147.84,1242.53 L2150.26,1241.47 L2152.63,1240.42 L2154.96,1239.36 L2157.24,1238.30 L2159.23,1237.37 L2161.14,1236.45 L2163.07,1235.51 L2164.92,1234.59 L2166.91,1233.58 L2169.09,1232.46 L2171.12,1231.39 L2173.11,1230.33 L2175.06,1229.26 L2176.98,1228.19 L2178.87,1227.12 L2180.72,1226.04 L2182.53,1224.97 L2184.31,1223.90 L2186.06,1222.82 L2187.78,1221.75 L2189.47,1220.67 L2191.23,1219.52 L2193.15,1218.25 L2195.07,1216.94 L2197.07,1215.55 L2198.91,1214.23 L2200.81,1212.85 L2202.62,1211.49 L2204.39,1210.14 L2206.11,1208.79 L2207.80,1207.43 L2209.45,1206.08 L2211.06,1204.72 L2212.63,1203.36 L2214.17,1202.00 L2215.67,1200.65 L2217.14,1199.29 L2218.86,1197.65 L2220.53,1196.02 L2221.96,1194.59 L2223.48,1193.03 L2225.02,1191.39 L2226.53,1189.76 L2227.99,1188.12 L2229.41,1186.48 L2230.80,1184.85 L2232.14,1183.21 L2233.45,1181.57 L2234.73,1179.93 L2235.97,1178.29 L2237.17,1176.65 L2238.34,1175.01 L2239.67,1173.10 L2240.96,1171.19 L2242.20,1169.27 L2243.41,1167.36 L2244.58,1165.44 L2245.71,1163.52 L2246.80,1161.61 L2247.86,1159.69 L2248.84,1157.87 L2249.88,1155.86 L2250.84,1153.94 L2251.77,1152.02 L2252.67,1150.11 L2253.55,1148.19 L2254.39,1146.27 L2255.21,1144.35 L2256.00,1142.43 L2256.77,1140.51 L2257.51,1138.59 L2258.23,1136.68 L2258.93,1134.76 L2259.61,1132.84 L2260.26,1130.92 L2260.89,1129.00 L2261.50,1127.08 L2262.10,1125.16 L2262.67,1123.24 L2263.31,1121.04 L2263.92,1118.85 L2264.51,1116.66 L2265.07,1114.46 L2265.62,1112.27 L2266.15,1110.07 L2266.66,1107.88 L2267.15,1105.68 L2267.62,1103.49 L2268.04,1101.47 L2268.46,1099.37 L2268.88,1097.18 L2269.29,1094.98 L2269.69,1092.79 L2270.07,1090.59 L2270.43,1088.39 L2270.79,1086.20 L2271.13,1084.00 L2271.46,1081.81 L2271.77,1079.61 L2272.08,1077.42 L2272.37,1075.22 L2272.65,1073.03 L2272.93,1070.83 L2273.19,1068.64 L2273.44,1066.44 L2273.69,1064.24 L2273.92,1062.05 L2274.15,1059.85 L2274.37,1057.66 L2274.58,1055.46 L2274.78,1053.27 L2274.98,1051.07 L2275.17,1048.88 L2275.35,1046.68 L2275.53,1044.48 L2275.69,1042.29 L2275.86,1040.09 L2276.01,1037.90 L2276.17,1035.70 L2276.31,1033.51 L2276.45,1031.31 L2276.59,1029.11 L2276.72,1026.92 L2276.84,1024.72 L2276.97,1022.53 L2277.08,1020.33 L2277.20,1018.14 L2277.30,1015.94 L2277.41,1013.74 L2277.51,1011.55 L2277.61,1009.35 L2277.70,1007.16 L2277.79,1004.96 L2277.88,1002.76 L2277.96,1000.57 L2278.04,998.37 L2278.12,996.18 L2278.20,993.98 L2278.27,991.79 L2278.28,991.51" fill="none" stroke="#0000ff" stroke-width="21.5" stroke-linecap="round" stroke-dasharray="0 47.289" stroke-dashoffset="-2.17"/><path d="M358.20,1026.85 L360.76,1028.51 L363.32,1030.16 L365.88,1031.81 L368.44,1033.45 L371.00,1035.10 L373.56,1036.73 L375.82,1038.18 L378.68,1040.00 L381.24,1041.63 L383.80,1043.26 L386.36,1044.88 L388.92,1046.50 L391.48,1048.12 L393.28,1049.25 L395.32,1050.53 L397.88,1052.14 L400.44,1053.74 L403.00,1055.35 L405.56,1056.94 L408.12,1058.54 L410.58,1060.06 L413.24,1061.72 L415.80,1063.30 L418.36,1064.88 L420.92,1066.46 L423.48,1068.03 L426.04,1069.60 L428.60,1071.17 L431.16,1072.74 L433.72,1074.30 L436.23,1075.82 L438.84,1077.41 L441.40,1078.96 L443.96,1080.51 L446.52,1082.05 L449.08,1083.59 L451.64,1085.13 L454.20,1086.66 L456.76,1088.19 L459.32,1089.72 L461.53,1091.04 L464.44,1092.77 L467.00,1094.28 L469.56,1095.80 L472.12,1097.31 L474.68,1098.82 L477.24,1100.32 L479.80,1101.82 L482.37,1103.32 L484.93,1104.81 L487.49,1106.30 L490.05,1107.79 L492.61,1109.27 L494.73,1110.50 L497.73,1112.23 L500.29,1113.70 L502.85,1115.17 L505.41,1116.64 L507.97,1118.10 L510.53,1119.56 L513.09,1121.02 L515.65,1122.47 L518.21,1123.92 L520.77,1125.37 L523.33,1126.81 L525.89,1128.25 L528.45,1129.68 L531.01,1131.12 L533.57,1132.55 L535.37,1133.55 L537.41,1134.68 L539.97,1136.10 L542.53,1137.52 L545.09,1138.93 L547.65,1140.34 L550.21,1141.75 L552.77,1143.16 L555.33,1144.56 L557.89,1145.95 L560.45,1147.35 L563.01,1148.73 L565.57,1150.12 L568.13,1151.50 L570.69,1152.88 L573.25,1154.26 L575.09,1155.24 L577.09,1156.32 L579.65,1157.68 L582.21,1159.05 L584.77,1160.41 L587.33,1161.77 L589.89,1163.12 L592.45,1164.47 L595.01,1165.82 L597.57,1167.16 L600.13,1168.50 L602.69,1169.84 L605.25,1171.17 L607.81,1172.50 L610.37,1173.82 L612.93,1175.15 L615.49,1176.46 L618.05,1177.78 L620.61,1179.09 L623.17,1180.40 L625.73,1181.70 L628.29,1183.01 L630.85,1184.30 L633.41,1185.60 L635.97,1186.89 L638.53,1188.18 L641.09,1189.46 L643.65,1190.74 L646.21,1192.02 L648.77,1193.29 L651.33,1194.56 L653.89,1195.83 L656.45,1197.09 L659.01,1198.35 L661.57,1199.61 L664.13,1200.86 L666.69,1202.11 L669.25,1203.35 L671.81,1204.59 L674.17,1205.73 L676.93,1207.07 L679.49,1208.30 L681.55,1209.28 L684.61,1210.75 L687.17,1211.97 L689.73,1213.19 L692.29,1214.40 L694.85,1215.61 L697.41,1216.82 L699.97,1218.02 L702.53,1219.22 L705.09,1220.41 L707.65,1221.60 L710.21,1222.79 L712.77,1223.98 L715.33,1225.16 L717.89,1226.34 L720.45,1227.51 L723.01,1228.68 L725.12,1229.64 L728.14,1231.01 L730.70,1232.17 L733.26,1233.33 L735.82,1234.48 L738.38,1235.63 L740.94,1236.77 L743.50,1237.92 L746.06,1239.05 L748.62,1240.19 L751.18,1241.32 L753.50,1242.34 L756.30,1243.57 L758.86,1244.69 L761.42,1245.81 L763.98,1246.92 L766.54,1248.03 L769.10,1249.14 L771.66,1250.24 L774.22,1251.34 L776.78,1252.43 L779.34,1253.52 L781.37,1254.38 L784.46,1255.69 L787.02,1256.77 L789.58,1257.85 L792.14,1258.92 L794.70,1259.99 L797.26,1261.06 L799.82,1262.12 L801.93,1262.99 L804.94,1264.23 L807.50,1265.28 L810.06,1266.33 L812.62,1267.37 L815.18,1268.41 L817.74,1269.45 L820.30,1270.48 L822.21,1271.25 L824.14,1272.02 L826.70,1273.04 L828.91,1273.92 L831.82,1275.08 L834.38,1276.09 L836.94,1277.10 L839.50,1278.10 L842.06,1279.10 L844.62,1280.10 L847.18,1281.09 L849.74,1282.08 L852.30,1283.07 L854.86,1284.05 L857.42,1285.03 L859.98,1286.00 L861.95,1286.75 L863.82,1287.46 L866.38,1288.42 L868.46,1289.20 L871.50,1290.34 L874.06,1291.29 L876.62,1292.24 L879.18,1293.19 L881.41,1294.01 L884.30,1295.07 L886.86,1296.01 L889.42,1296.94 L891.98,1297.87 L894.23,1298.68 L897.10,1299.71 L899.66,1300.62 L902.22,1301.54 L904.78,1302.44 L906.94,1303.21 L909.90,1304.25 L912.46,1305.15 L915.02,1306.04 L917.58,1306.93 L919.53,1307.60 L921.42,1308.25 L923.98,1309.13 L926.54,1310.01 L929.10,1310.88 L931.66,1311.75 L934.22,1312.61 L936.78,1313.47 L939.34,1314.33 L941.90,1315.18 L944.36,1316.00 L947.02,1316.88 L949.58,1317.72 L952.14,1318.55 L954.70,1319.39 L956.61,1320.00 L958.54,1320.63 L961.10,1321.45 L963.66,1322.27 L966.22,1323.09 L968.75,1323.88 L971.34,1324.70 L973.91,1325.51 L976.47,1326.31 L979.03,1327.10 L981.59,1327.90 L984.15,1328.68 L986.71,1329.47 L989.27,1330.25 L991.83,1331.02 L994.39,1331.80 L996.95,1332.56 L999.51,1333.33 L1002.07,1334.09 L1004.49,1334.80 L1007.19,1335.60 L1009.75,1336.34 L1012.31,1337.09 L1014.87,1337.83 L1017.43,1338.56 L1019.99,1339.30 L1021.99,1339.87 L1025.11,1340.75 L1027.67,1341.47 L1030.23,1342.18 L1032.79,1342.89 L1035.35,1343.60 L1037.91,1344.31 L1040.47,1345.01 L1043.03,1345.70 L1045.59,1346.39 L1048.15,1347.08 L1050.63,1347.74 L1053.27,1348.44 L1055.83,1349.12 L1058.39,1349.79 L1060.95,1350.46 L1063.51,1351.12 L1066.07,1351.78 L1068.63,1352.43 L1071.19,1353.08 L1073.75,1353.73 L1076.31,1354.37 L1078.62,1354.95 L1081.43,1355.64 L1083.99,1356.27 L1086.55,1356.90 L1089.11,1357.52 L1091.67,1358.14 L1094.23,1358.75 L1096.79,1359.36 L1099.35,1359.96 L1101.91,1360.56 L1104.47,1361.16 L1107.03,1361.75 L1109.59,1362.34 L1112.15,1362.92 L1114.71,1363.50 L1116.73,1363.96 L1119.83,1364.65 L1122.08,1365.15 L1124.95,1365.78 L1127.40,1366.31 L1130.07,1366.89 L1132.63,1367.44 L1135.19,1367.99 L1137.75,1368.53 L1140.31,1369.06 L1142.87,1369.60 L1145.43,1370.12 L1147.99,1370.65 L1150.55,1371.17 L1153.11,1371.68 L1155.67,1372.19 L1158.23,1372.70 L1160.79,1373.20 L1163.35,1373.70 L1165.91,1374.19 L1168.47,1374.68 L1171.03,1375.17 L1173.59,1375.65 L1176.15,1376.12 L1178.71,1376.59 L1181.27,1377.06 L1183.83,1377.52 L1186.39,1377.98 L1188.95,1378.43 L1191.51,1378.88 L1194.07,1379.33 L1196.63,1379.77 L1199.19,1380.20 L1201.75,1380.63 L1204.31,1381.06 L1206.87,1381.48 L1209.29,1381.88 L1211.99,1382.31 L1214.21,1382.67 L1217.11,1383.13 L1219.11,1383.44 L1222.24,1383.92 L1224.80,1384.31 L1227.36,1384.70 L1229.92,1385.08 L1232.48,1385.46 L1235.04,1385.83 L1237.60,1386.20 L1240.16,1386.56 L1242.72,1386.92 L1245.28,1387.27 L1247.84,1387.62 L1250.40,1387.97 L1252.77,1388.28 L1255.52,1388.64 L1258.08,1388.97 L1260.64,1389.30 L1263.20,1389.62 L1265.76,1389.94 L1268.32,1390.25 L1270.88,1390.55 L1273.44,1390.86 L1276.00,1391.15 L1278.56,1391.45 L1280.77,1391.70 L1283.68,1392.02 L1286.24,1392.30 L1288.80,1392.57 L1291.36,1392.84 L1293.92,1393.10 L1296.48,1393.36 L1299.01,1393.61 L1301.60,1393.87 L1304.16,1394.11 L1306.72,1394.35 L1309.28,1394.58 L1311.84,1394.81 L1314.40,1395.04 L1316.92,1395.26 L1319.52,1395.47 L1322.08,1395.69 L1324.64,1395.89 L1327.20,1396.09 L1329.76,1396.29 L1332.32,1396.48 L1334.50,1396.63 L1337.44,1396.84 L1340.00,1397.02 L1342.56,1397.19 L1345.12,1397.35 L1347.48,1397.50 L1350.24,1397.67 L1352.80,1397.82 L1355.36,1397.96 L1357.92,1398.10 L1360.27,1398.23 L1363.04,1398.37 L1365.60,1398.49 L1368.16,1398.61 L1370.72,1398.73 L1372.89,1398.82 L1375.84,1398.94 L1378.40,1399.04 L1380.96,1399.13 L1383.52,1399.22 L1386.08,1399.30 L1388.64,1399.38 L1391.20,1399.45 L1393.55,1399.51 L1396.32,1399.58 L1398.88,1399.63 L1401.44,1399.69 L1404.00,1399.73 L1406.56,1399.77 L1409.12,1399.81 L1411.68,1399.83 L1413.73,1399.85 L1416.80,1399.88 L1419.36,1399.89 L1421.67,1399.90 L1424.48,1399.90 L1427.04,1399.90 L1429.55,1399.89 L1432.16,1399.87 L1434.72,1399.85 L1437.28,1399.83 L1439.84,1399.79 L1442.40,1399.76 L1444.96,1399.71 L1447.52,1399.67 L1450.08,1399.61 L1452.64,1399.55 L1455.20,1399.49 L1457.76,1399.42 L1460.31,1399.34 L1462.88,1399.26 L1465.44,1399.17 L1467.83,1399.08 L1470.57,1398.97 L1473.13,1398.87 L1475.28,1398.78 L1478.25,1398.64 L1480.81,1398.52 L1483.37,1398.39 L1485.93,1398.25 L1488.49,1398.11 L1491.05,1397.96 L1493.60,1397.81 L1496.17,1397.65 L1498.73,1397.49 L1500.81,1397.35 L1503.85,1397.14 L1506.41,1396.95 L1508.97,1396.76 L1511.51,1396.57 L1514.09,1396.37 L1516.65,1396.16 L1519.21,1395.94 L1521.77,1395.72 L1524.33,1395.50 L1526.89,1395.26 L1529.00,1395.07 L1532.01,1394.78 L1534.57,1394.53 L1537.13,1394.27 L1539.31,1394.04 L1542.25,1393.73 L1544.81,1393.45 L1547.37,1393.17 L1549.48,1392.93 L1552.49,1392.58 L1555.05,1392.28 L1557.61,1391.97 L1560.17,1391.65 L1562.73,1391.33 L1565.29,1391.00 L1567.85,1390.66 L1570.41,1390.32 L1572.66,1390.01 L1575.53,1389.61 L1578.09,1389.24 L1580.65,1388.87 L1583.21,1388.50 L1585.57,1388.14 L1588.33,1387.72 L1590.89,1387.32 L1593.45,1386.91 L1596.01,1386.50 L1598.25,1386.13 L1601.13,1385.65 L1603.69,1385.22 L1606.25,1384.78 L1608.81,1384.33 L1611.37,1383.88 L1613.77,1383.44 L1616.49,1382.94 L1619.05,1382.46 L1621.61,1381.98 L1624.17,1381.49 L1626.73,1380.99 L1628.94,1380.55 L1631.85,1379.97 L1634.41,1379.44 L1636.97,1378.91 L1639.53,1378.38 L1642.09,1377.83 L1644.65,1377.28 L1646.69,1376.83 L1649.60,1376.19 L1652.33,1375.57 L1654.89,1374.99 L1657.45,1374.40 L1660.01,1373.80 L1662.57,1373.19 L1665.13,1372.57 L1667.69,1371.95 L1670.25,1371.31 L1672.41,1370.78 L1675.20,1370.07 L1677.93,1369.37 L1680.49,1368.70 L1683.05,1368.03 L1685.61,1367.35 L1688.17,1366.66 L1690.73,1365.96 L1693.29,1365.25 L1695.85,1364.53 L1698.41,1363.81 L1700.97,1363.08 L1703.53,1362.33 L1706.09,1361.58 L1708.65,1360.82 L1711.21,1360.05 L1713.78,1359.27 L1716.34,1358.49 L1718.90,1357.69 L1721.46,1356.89 L1724.02,1356.07 L1726.58,1355.25 L1729.14,1354.41 L1731.70,1353.57 L1734.26,1352.72 L1736.82,1351.86 L1739.38,1350.99 L1741.94,1350.11 L1744.50,1349.22 L1747.06,1348.32 L1749.62,1347.41 L1752.18,1346.49 L1754.74,1345.56 L1757.30,1344.62 L1759.86,1343.66 L1762.42,1342.70 L1764.98,1341.73 L1767.54,1340.75 L1769.98,1339.80 L1772.33,1338.89 L1774.66,1337.97 L1776.99,1337.04 L1779.06,1336.21 L1781.60,1335.18 L1783.89,1334.24 L1786.17,1333.29 L1788.02,1332.52 L1790.58,1331.44 L1792.95,1330.44 L1795.19,1329.47 L1797.42,1328.51 L1799.54,1327.58 L1801.84,1326.57 L1804.04,1325.59 L1805.94,1324.74 L1808.40,1323.62 L1810.57,1322.63 L1812.73,1321.64 L1814.88,1320.64 L1817.02,1319.64 L1819.14,1318.64 L1821.26,1317.63 L1823.37,1316.62 L1825.47,1315.60 L1827.56,1314.58 L1829.64,1313.56 L1831.54,1312.61 L1833.77,1311.50 L1835.82,1310.46 L1837.86,1309.43 L1839.90,1308.39 L1841.78,1307.41 L1843.93,1306.29 L1845.94,1305.24 L1847.93,1304.19 L1849.92,1303.13 L1851.89,1302.07 L1853.86,1301.00 L1855.82,1299.93 L1857.77,1298.86 L1859.70,1297.79 L1861.64,1296.71 L1863.54,1295.64 L1865.48,1294.55 L1867.38,1293.46 L1869.28,1292.37 L1871.17,1291.28 L1873.05,1290.18 L1874.92,1289.08 L1876.78,1287.98 L1878.64,1286.87 L1880.48,1285.77 L1882.32,1284.66 L1884.15,1283.54 L1885.97,1282.43 L1887.78,1281.31 L1889.58,1280.19 L1891.38,1279.06 L1893.16,1277.94 L1894.94,1276.81 L1896.71,1275.67 L1898.47,1274.54 L1900.23,1273.40 L1901.94,1272.28 L1903.71,1271.12 L1905.44,1269.97 L1907.16,1268.83 L1908.88,1267.68 L1910.58,1266.52 L1912.28,1265.37 L1913.97,1264.21 L1915.65,1263.05 L1917.30,1261.91 L1919.00,1260.72 L1920.65,1259.56 L1922.31,1258.39 L1923.95,1257.22 L1925.59,1256.04 L1927.22,1254.87 L1928.84,1253.69 L1931.38,1251.83 L1933.66,1250.14 L1936.50,1248.02 L1938.41,1246.58 L1940.34,1245.11 L1942.90,1243.14 L1944.65,1241.79 L1946.74,1240.16 L1949.26,1238.18 L1951.86,1236.11 L1953.80,1234.55 L1955.70,1233.01 L1958.26,1230.92 L1960.83,1228.80 L1962.69,1227.25 L1964.67,1225.59 L1967.05,1223.57 L1969.79,1221.23 L1971.35,1219.88 L1973.63,1217.89 L1975.58,1216.17 L1977.47,1214.50 L1979.76,1212.45 L1981.31,1211.06 L1983.87,1208.73 L1986.43,1206.37 L1987.95,1204.96 L1990.27,1202.79 L1991.96,1201.19 L1994.11,1199.15 L1995.92,1197.41 L1997.95,1195.45 L1999.82,1193.62 L2001.79,1191.68 L2003.66,1189.82 L2005.63,1187.85 L2007.46,1186.00 L2009.47,1183.95 L2011.20,1182.17 L2013.31,1179.99 L2014.89,1178.33 L2017.15,1175.95 L2018.53,1174.48 L2020.93,1171.91 L2023.31,1169.33 L2024.83,1167.66 L2026.83,1165.45 L2028.67,1163.41 L2030.31,1161.57 L2032.51,1159.07 L2034.87,1156.37 L2036.35,1154.66 L2038.23,1152.46 L2040.19,1150.16 L2041.55,1148.54 L2043.74,1145.92 L2045.31,1144.03 L2046.59,1142.47 L2047.87,1140.91 L2049.15,1139.33 L2050.43,1137.74 L2051.71,1136.15 L2052.99,1134.54 L2054.27,1132.92 L2055.55,1131.29 L2056.83,1129.65 L2058.11,1128.00 L2059.39,1126.34 L2060.67,1124.67 L2061.95,1122.99 L2063.23,1121.29 L2064.51,1119.59 L2065.79,1117.87 L2067.07,1116.14 L2068.35,1114.40 L2069.63,1112.65 L2070.91,1110.88 L2072.19,1109.10 L2073.47,1107.32 L2074.75,1105.51 L2076.03,1103.70 L2077.31,1101.87 L2078.59,1100.03 L2079.87,1098.18 L2081.15,1096.31 L2082.43,1094.43 L2083.71,1092.54 L2084.99,1090.63 L2086.22,1088.78 L2087.55,1086.77 L2088.83,1084.82 L2090.11,1082.86 L2091.39,1080.88 L2092.67,1078.89 L2093.95,1076.88 L2095.23,1074.86 L2096.51,1072.82 L2097.79,1070.76 L2099.07,1068.69 L2100.35,1066.60 L2101.63,1064.50 L2102.91,1062.38 L2104.10,1060.39 L2105.47,1058.09 L2106.52,1056.32 L2108.03,1053.73 L2109.31,1051.53 L2110.47,1049.51 L2111.87,1047.06 L2113.15,1044.80 L2114.34,1042.69 L2115.71,1040.22 L2116.99,1037.90 L2118.11,1035.86 L2119.55,1033.21 L2120.83,1030.83 L2121.80,1029.02 L2123.25,1026.28 L2124.67,1023.58 L2125.95,1021.11 L2127.23,1018.63 L2128.23,1016.68 L2129.62,1013.93 L2131.01,1011.18 L2132.35,1008.47 L2133.63,1005.87 L2134.91,1003.25 L2136.19,1000.60 L2137.06,998.79 L2138.37,996.03 L2139.68,993.27 L2140.96,990.51 L2142.24,987.75 L2143.50,984.98 L2144.76,982.22 L2146.00,979.45 L2147.23,976.69 L2148.45,973.92 L2149.66,971.15 L2150.85,968.38 L2152.04,965.61 L2152.83,963.74 L2153.80,961.45 L2154.96,958.67 L2156.11,955.89 L2157.24,953.12 L2158.37,950.34 L2159.23,948.19 L2160.04,946.17 L2161.14,943.39 L2162.23,940.61 L2163.07,938.45 L2163.85,936.43 L2164.92,933.65 L2165.63,931.77 L2166.50,929.47 L2167.54,926.68 L2168.58,923.90 L2169.47,921.45 L2170.61,918.32 L2171.62,915.53 L2172.61,912.74 L2173.31,910.76 L2174.09,908.55 L2175.06,905.75 L2175.87,903.41 L2176.98,900.17 L2177.93,897.37 L2178.87,894.57 L2179.71,892.02 L2180.72,888.98 L2181.63,886.18 L2182.27,884.18 L2182.98,881.98 L2183.87,879.18 L2184.75,876.38 L2185.63,873.58 L2186.50,870.78 L2187.36,867.98 L2188.21,865.17 L2189.05,862.37 L2189.89,859.57 L2190.71,856.76 L2191.53,853.95 L2192.35,851.15 L2193.15,848.34 L2193.79,846.09 L2194.35,844.13 L2195.07,841.54 L2195.91,838.51 L2196.69,835.71 L2197.45,832.90 L2198.21,830.09 L2198.91,827.46 L2199.71,824.46 L2200.45,821.65 L2201.18,818.84 L2201.90,816.03 L2202.62,813.22 L2203.33,810.40 L2204.03,807.59 L2204.73,804.78 L2205.32,802.41 L2206.11,799.15 L2206.60,797.14 L2207.13,794.92 L2207.80,792.11 L2208.46,789.29 L2209.12,786.48 L2209.77,783.66 L2210.42,780.84 L2211.06,778.02 L2211.69,775.21 L2212.32,772.39 L2212.94,769.57 L2213.56,766.75 L2214.17,763.93 L2214.77,761.11 L2215.37,758.29 L2215.97,755.47 L2216.56,752.65 L2217.14,749.83 L2217.72,747.01 L2218.29,744.19 L2218.86,741.37 L2219.40,738.67 L2219.98,735.72 L2220.53,732.90 L2221.08,730.08 L2221.62,727.25 L2222.16,724.43 L2222.69,721.61 L2223.22,718.78 L2223.74,715.96 L2224.26,713.14 L2224.77,710.31 L2225.28,707.49 L2225.78,704.66 L2226.28,701.84 L2226.77,699.01 L2227.26,696.19 L2227.75,693.36 L2228.23,690.54 L2228.71,687.71 L2229.18,684.88 L2229.64,682.12 L2230.11,679.23 L2230.57,676.41 L2230.92,674.25 L2231.25,672.17 L2231.70,669.34 L2232.14,666.51 L2232.58,663.68 L2233.02,660.86 L2233.45,658.03 L2233.88,655.20 L2234.31,652.37 L2234.73,649.54 L2235.14,646.72 L2235.56,643.89 L2235.97,641.06 L2236.37,638.23 L2236.77,635.40 L2237.17,632.57 L2237.57,629.74 L2237.96,626.91 L2238.34,624.08 L2238.73,621.25 L2239.11,618.43 L2239.49,615.60 L2239.86,612.77 L2240.23,609.94 L2240.59,607.11 L2240.96,604.28 L2241.32,601.44 L2241.67,598.61 L2242.03,595.78 L2242.38,592.95 L2242.72,590.12 L2243.07,587.29 L2243.41,584.46 L2243.72,581.87 L2244.08,578.80 L2244.41,575.97 L2244.74,573.14 L2245.00,570.89 L2245.23,568.89 L2245.55,566.06 L2245.86,563.23 L2246.18,560.39 L2246.49,557.56 L2246.80,554.73 L2247.11,551.90 L2247.41,549.07 L2247.71,546.23 L2248.01,543.40 L2248.30,540.57 L2248.60,537.74 L2248.84,535.38 L2249.17,532.07 L2249.46,529.24 L2249.74,526.41 L2250.02,523.57 L2250.29,520.74 L2250.57,517.91 L2250.84,515.08 L2251.11,512.24 L2251.38,509.41 L2251.64,506.58 L2251.90,503.74 L2252.16,500.91 L2252.42,498.08 L2252.67,495.24 L2252.93,492.41 L2253.18,489.58 L2253.42,486.74 L2253.67,483.91 L2253.91,481.08 L2254.15,478.24 L2254.39,475.41 L2254.63,472.58 L2254.86,469.74 L2255.10,466.91 L2255.33,464.07 L2255.55,461.24 L2255.78,458.41 L2256.00,455.57 L2256.23,452.74 L2256.45,449.90 L2256.66,447.07 L2256.88,444.24 L2257.09,441.40 L2257.30,438.57 L2257.51,435.73 L2257.72,432.90 L2257.93,430.07 L2258.13,427.23 L2258.33,424.40 L2258.54,421.56 L2258.73,418.73 L2258.93,415.89 L2259.08,413.77 L2259.22,411.64 L2259.41,408.81 L2259.61,405.97 L2259.79,403.14 L2259.98,400.30 L2260.17,397.47 L2260.35,394.63 L2260.53,391.80 L2260.71,388.96 L2260.89,386.13 L2261.07,383.29 L2261.24,380.46 L2261.42,377.62 L2261.59,374.79 L2261.76,371.95 L2261.93,369.12 L2262.10,366.28 L2262.26,363.45 L2262.43,360.61 L2262.59,357.78 L2262.75,354.94 L2262.91,352.11 L2263.07,349.27 L2263.23,346.44 L2263.38,343.60 L2263.54,340.77 L2263.69,337.93 L2263.84,335.10 L2263.99,332.26 L2264.14,329.43 L2264.29,326.59 L2264.43,323.76 L2264.58,320.92 L2264.72,318.09 L2264.86,315.25 L2265.00,312.42 L2265.14,309.58 L2265.28,306.75 L2265.42,303.91 L2265.55,301.08 L2265.69,298.24 L2265.82,295.40 L2265.95,292.57 L2266.08,289.73 L2266.21,286.90 L2266.34,284.06 L2266.47,281.23 L2266.59,278.39 L2266.72,275.56 L2266.84,272.72 L2266.96,269.88 L2267.09,267.05 L2267.21,264.21 L2267.32,261.38 L2267.44,258.54 L2267.56,255.71 L2267.68,252.87 L2267.79,250.04 L2267.90,247.20 L2268.02,244.36 L2268.13,241.53 L2268.24,238.69 L2268.35,235.86 L2268.46,233.02 L2268.57,230.19 L2268.67,227.35 L2268.78,224.51 L2268.88,221.68 L2268.99,218.84 L2269.09,216.01 L2269.19,213.17 L2269.29,210.34 L2269.39,207.50 L2269.49,204.66 L2269.59,201.83 L2269.69,198.99 L2269.78,196.16 L2269.88,193.32 L2269.97,190.48 L2270.07,187.65 L2270.16,184.81 L2270.25,181.98 L2270.34,179.14 L2270.43,176.31 L2270.52,173.47 L2270.60,171.07 L2270.70,167.80 L2270.79,164.96 L2270.87,162.13 L2270.96,159.29 L2271.04,156.45 L2271.13,153.62 L2271.21,150.78 L2271.29,147.95 L2271.37,145.11 L2271.46,142.27 L2271.54,139.44 L2271.61,136.60 L2271.69,133.77 L2271.77,130.93 L2271.85,128.09 L2271.93,125.26 L2272.00,122.42 L2272.08,119.59 L2272.15,116.75 L2272.22,113.91 L2272.30,111.08 L2272.37,108.24 L2272.44,105.41 L2272.51,102.57 L2272.58,99.73 L2272.65,96.90 L2272.72,94.06 L2272.79,91.23 L2272.86,88.39 L2272.93,85.55 L2272.99,82.72 L2273.06,79.88 L2273.12,77.05 L2273.19,74.21 L2273.25,71.37 L2273.32,68.54 L2273.38,65.70 L2273.44,62.87 L2273.50,60.03 L2273.57,57.19 L2273.63,54.36 L2273.69,51.52 L2273.75,48.69 L2273.81,45.85 L2273.86,43.01 L2273.92,40.18 L2273.98,37.34 L2274.04,34.50 L2274.09,31.67 L2274.15,28.83 L2274.21,26.00 L2274.26,23.16 L2274.31,20.32 L2274.37,17.49 L2274.42,14.65 L2274.48,11.82 L2274.53,8.98 L2274.58,6.14 L2274.63,3.31 L2274.68,0.47 L2274.73,-2.36 L2274.78,-5.20 L2274.83,-8.04 L2274.88,-10.87 L2274.93,-13.71 L2274.98,-16.55 L2275.03,-19.38 L2275.07,-22.22 L2275.12,-25.05 L2275.17,-27.89 L2275.21,-30.73 L2275.26,-33.56 L2275.30,-36.40 L2275.35,-39.23 L2275.39,-42.07 L2275.44,-44.91 L2275.48,-47.74 L2275.53,-50.58 L2275.57,-53.42 L2275.61,-56.25 L2275.65,-59.09 L2275.69,-61.92 L2275.74,-64.76 L2275.78,-67.60 L2275.82,-70.43 L2275.86,-73.27 L2275.90,-76.10 L2275.94,-78.94 L2275.98,-81.78 L2276.01,-84.61 L2276.05,-87.45 L2276.09,-90.29 L2276.13,-93.12 L2276.17,-95.96 L2276.20,-98.79 L2276.24,-101.63 L2276.28,-104.47 L2276.31,-107.30 L2276.35,-110.14 L2276.38,-112.97 L2276.42,-115.81 L2276.45,-118.65 L2276.49,-121.48 L2276.52,-124.32 L2276.55,-127.16 L2276.59,-129.99 L2276.62,-132.83 L2276.65,-135.66 L2276.69,-138.50 L2276.72,-141.34 L2276.75,-144.17 L2276.78,-147.01 L2276.81,-149.85 L2276.84,-152.68 L2276.88,-155.52 L2276.91,-158.35 L2276.94,-161.19 L2276.97,-164.03 L2277.00,-166.86 L2277.02,-169.70 L2277.05,-172.54 L2277.08,-175.37 L2277.11,-178.21 L2277.14,-181.04 L2277.17,-183.88 L2277.20,-186.72 L2277.22,-189.55 L2277.25,-192.39 L2277.28,-195.22 L2277.30,-198.06 L2277.33,-200.90 L2277.36,-203.73 L2277.38,-206.57 L2277.41,-209.41 L2277.43,-212.24 L2277.46,-215.08 L2277.49,-217.91 L2277.51,-220.75 L2277.53,-223.59 L2277.56,-226.42 L2277.58,-229.26 L2277.61,-232.10 L2277.63,-234.93 L2277.65,-237.77 L2277.68,-240.60 L2277.70,-243.44 L2277.72,-246.28 L2277.75,-249.11 L2277.77,-251.95 L2277.79,-254.79 L2277.81,-257.62 L2277.84,-260.46 L2277.86,-263.29 L2277.88,-266.13 L2277.90,-268.97 L2277.92,-271.80 L2277.94,-274.64 L2277.96,-277.48 L2277.98,-280.31 L2278.00,-283.15 L2278.02,-285.98 L2278.04,-288.82 L2278.06,-291.66 L2278.08,-294.49 L2278.10,-297.33 L2278.12,-300.17 L2278.14,-303.00 L2278.16,-305.84 L2278.18,-308.67 L2278.20,-311.51 L2278.22,-314.35 L2278.23,-317.18 L2278.25,-320.02 L2278.27,-322.85 L2278.28,-324.27" fill="none" stroke="#ff0000" stroke-width="15" stroke-linecap="round" stroke-linejoin="round" stroke-dasharray="33.0 30.030" stroke-dashoffset="-0.61"/></g><path d="M357.7,66.10 V1517.90" stroke="#4e4e4e" stroke-width="3.8" fill="none"/><path d="M2280.2,66.10 V1517.90" stroke="#383838" stroke-width="4.0" fill="none"/><path d="M355.80,68.1 H2282.20" stroke="#3c3c3c" stroke-width="4.0" fill="none"/><path d="M355.80,1515.7 H2282.20" stroke="#353535" stroke-width="4.4" fill="none"/><path d="M358.3,1440 V1517.5" stroke="#2c2c2c" stroke-width="4.4" fill="none"/><path d="M2281.2,1441 V1517.5" stroke="#333" stroke-width="4.6" fill="none"/><path d="M356.7,272.9 H393.2 M2281.2,272.9 H2247.0 M356.7,479.2 H393.2 M2281.2,479.2 H2247.0 M356.7,686.3 H393.2 M2281.2,686.3 H2247.0 M356.7,894.0 H393.2 M2281.2,894.0 H2247.0 M356.7,1098.4 H393.2 M2281.2,1098.4 H2247.0 M356.7,1307.1 H393.2 M2281.2,1307.1 H2247.0 M548.6,1516.7 V1482.0 M742.5,1516.7 V1482.0 M932.4,1516.7 V1482.0 M1125.7,1516.7 V1482.0 M1319.5,1516.7 V1482.0 M1510.2,1516.7 V1482.0 M1703.6,1516.7 V1482.0 M1893.5,1516.7 V1482.0 M2087.7,1516.7 V1482.0 M548.6,67.1 V100.3 M742.5,67.1 V100.3 M932.4,67.1 V100.3 M1125.7,67.1 V100.3 M1319.5,67.1 V100.3 M1510.2,67.1 V100.3 M1703.6,67.1 V100.3 M1893.5,67.1 V100.3 M2087.7,67.1 V100.3" stroke="#333" stroke-width="4.5" fill="none"/><path d="M356,66 H392" stroke="#111" stroke-width="4.2" fill="none"/><path d="M2246.5,66 H2281.5" stroke="#111" stroke-width="4.2" fill="none"/><text transform="translate(243.87 91.67) scale(1.0305 1)" font-size="53.14" fill="#262626" stroke="#fff" stroke-width="0.8">0.3</text><text transform="translate(222.69 294.07) scale(1.0305 1)" font-size="53.14" fill="#262626" stroke="#fff" stroke-width="0.8">0.25</text><text transform="translate(247.06 507.97) scale(1.0305 1)" font-size="53.14" fill="#262626" stroke="#fff" stroke-width="0.8">0.2</text><text transform="translate(220.69 709.62) scale(1.0305 1)" font-size="53.14" fill="#262626" stroke="#fff" stroke-width="0.8">0.15</text><text transform="translate(246.99 918.77) scale(1.0305 1)" font-size="53.14" fill="#262626" stroke="#fff" stroke-width="0.8">0.1</text><text transform="translate(218.59 1125.87) scale(1.0305 1)" font-size="53.14" fill="#262626" stroke="#fff" stroke-width="0.8">0.05</text><text transform="translate(282.93 1330.47) scale(1.0305 1)" font-size="53.14" fill="#262626" stroke="#fff" stroke-width="0.8">0</text><text transform="translate(178.71 1539.12) scale(1.0305 1)" font-size="53.14" fill="#262626" stroke="#fff" stroke-width="0.8">−0.05</text><text transform="translate(321.98 1618.40) scale(1.0305 1)" font-size="53.14" fill="#262626" stroke="#fff" stroke-width="0.8">−5</text><text transform="translate(475.71 1614.85) scale(1.0305 1)" font-size="53.14" fill="#262626" stroke="#fff" stroke-width="0.8">−4.5</text><text transform="translate(703.93 1615.12) scale(1.0305 1)" font-size="53.14" fill="#262626" stroke="#fff" stroke-width="0.8">−4</text><text transform="translate(862.01 1617.27) scale(1.0305 1)" font-size="53.14" fill="#262626" stroke="#fff" stroke-width="0.8">−3.5</text><text transform="translate(1090.40 1617.27) scale(1.0305 1)" font-size="53.14" fill="#262626" stroke="#fff" stroke-width="0.8">−3</text><text transform="translate(1244.46 1615.27) scale(1.0305 1)" font-size="53.14" fill="#262626" stroke="#fff" stroke-width="0.8">−2.5</text><text transform="translate(1473.58 1615.53) scale(1.0305 1)" font-size="53.14" fill="#262626" stroke="#fff" stroke-width="0.8">−2</text><text transform="translate(1626.76 1616.30) scale(1.0305 1)" font-size="53.14" fill="#262626" stroke="#fff" stroke-width="0.8">−1.5</text><text transform="translate(1857.26 1613.87) scale(1.0305 1)" font-size="53.14" fill="#262626" stroke="#fff" stroke-width="0.8">−1</text><text transform="translate(2013.31 1618.27) scale(1.0305 1)" font-size="53.14" fill="#262626" stroke="#fff" stroke-width="0.8">−0.5</text><text transform="translate(2267.08 1619.27) scale(1.0305 1)" font-size="53.14" fill="#262626" stroke="#fff" stroke-width="0.8">0</text><text transform="translate(21.41 707.65) scale(0.9531 1)" font-size="75.41" font-style="italic" fill="#000" stroke="#fff" stroke-width="1.2">U</text><text transform="translate(1299.20 1731.50) scale(0.9161 1)" font-size="73.36" font-style="italic" fill="#000" stroke="#fff" stroke-width="1.2">v</text><g><text transform="translate(1889.14 449.57) scale(0.9212 1)" font-size="54.76" font-weight="bold" fill="#ff0000">A</text><text transform="translate(1925.29 464.90) scale(0.9657 1)" font-size="35.78" font-weight="bold" fill="#ff0000">−1</text><text transform="translate(1979.99 448.48) scale(1.0366 1)" font-size="49.01" font-weight="bold" fill="#ff0000">=</text><text transform="translate(2023.62 449.56) scale(1.0255 1)" font-size="53.71" font-weight="bold" fill="#ff0000">−0.015</text></g><g><text transform="translate(1889.14 524.08) scale(0.9212 1)" font-size="54.76" font-weight="bold" fill="#ff0000">A</text><text transform="translate(1925.91 538.70) scale(0.9657 1)" font-size="35.78" font-weight="bold" fill="#ff0000">1</text><text transform="translate(1960.39 521.88) scale(1.0366 1)" font-size="49.01" font-weight="bold" fill="#ff0000">=</text><text transform="translate(2004.23 522.96) scale(1.0255 1)" font-size="53.71" font-weight="bold" fill="#ff0000">0.0744</text></g><g><text transform="translate(1333.34 1036.88) scale(0.9212 1)" font-size="54.76" font-weight="bold" fill="#7030a0">A</text><text transform="translate(1369.99 1051.50) scale(0.9657 1)" font-size="35.78" font-weight="bold" fill="#7030a0">−1</text><text transform="translate(1425.44 1035.43) scale(1.0366 1)" font-size="49.01" font-weight="bold" fill="#7030a0">=</text><text transform="translate(1468.62 1036.86) scale(1.0255 1)" font-size="53.71" font-weight="bold" fill="#7030a0">−0.015</text></g><g><text transform="translate(1333.34 1108.33) scale(0.9212 1)" font-size="54.76" font-weight="bold" fill="#7030a0">A</text><text transform="translate(1370.11 1123.00) scale(0.9657 1)" font-size="35.78" font-weight="bold" fill="#7030a0">1</text><text transform="translate(1404.24 1106.53) scale(1.0366 1)" font-size="49.01" font-weight="bold" fill="#7030a0">=</text><text transform="translate(1448.43 1107.96) scale(1.0255 1)" font-size="53.71" font-weight="bold" fill="#7030a0">0.0144</text></g><g><text transform="translate(425.64 1337.62) scale(0.9212 1)" font-size="54.76" font-weight="bold" fill="#002060">A</text><text transform="translate(461.89 1351.85) scale(0.9657 1)" font-size="35.78" font-weight="bold" fill="#002060">−1</text><text transform="translate(517.74 1336.18) scale(1.0366 1)" font-size="49.01" font-weight="bold" fill="#002060">=</text><text transform="translate(560.57 1337.26) scale(1.0255 1)" font-size="53.71" font-weight="bold" fill="#002060">−0.005</text></g><g><text transform="translate(425.64 1409.12) scale(0.9212 1)" font-size="54.76" font-weight="bold" fill="#002060">A</text><text transform="translate(462.46 1424.85) scale(0.9657 1)" font-size="35.78" font-weight="bold" fill="#002060">1</text><text transform="translate(496.94 1407.68) scale(1.0366 1)" font-size="49.01" font-weight="bold" fill="#002060">=</text><text transform="translate(540.03 1408.76) scale(1.0255 1)" font-size="53.71" font-weight="bold" fill="#002060">0.0144</text></g></svg></body></html>
